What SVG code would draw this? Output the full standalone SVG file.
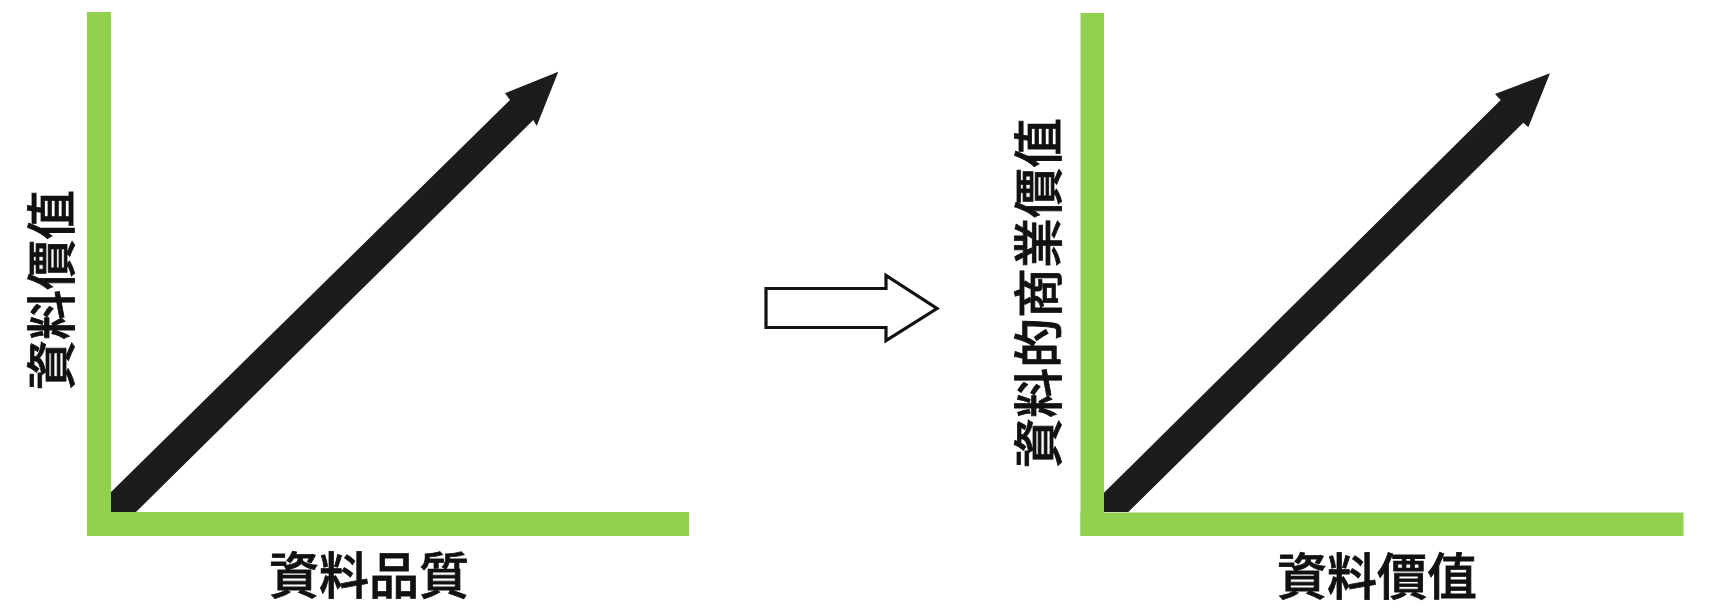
<svg xmlns="http://www.w3.org/2000/svg" width="1711" height="608" viewBox="0 0 1711 608">
  <style>
    .axis { fill: #92D050; }
    .trend { fill: #1C1C1C; }
    .label { font-family: "Noto Sans CJK TC", "Noto Sans CJK SC", sans-serif; font-size: 50px; font-weight: 500; fill: #111111; text-anchor: middle; dominant-baseline: central; stroke: #111111; stroke-width: 0.8; }
    .hollow { fill: #FFFFFF; stroke: #111111; stroke-width: 3.2; stroke-linejoin: miter; }
  </style>
  <rect width="1711" height="608" fill="#FFFFFF"/>

  <g id="connectors">
    <polygon id="trend-left" class="trend" points="111,492 510,100 505,93.3 558.3,71.7 536.7,126 533.3,120 136,512 111,512"/>
    <polygon id="trend-right" class="trend" points="1104,492.7 1500.7,100 1495,94 1550,73.3 1528.3,127.3 1523.3,122.7 1128.3,512 1104,512"/>
    <polygon id="transition-arrow" class="hollow" points="766,288.5 886,288.5 886,275.5 937,308.5 886,340.5 886,327.5 766,327.5"/>
  </g>

  <g id="left-chart">
    <rect class="axis" x="87" y="12" width="24" height="524"/>
    <rect class="axis" x="87" y="512" width="602" height="24"/>
    <text class="label" x="369" y="572">資料品質</text>
    <text class="label" transform="translate(48 290) rotate(-90)">資料價值</text>
  </g>

  <g id="right-chart">
    <rect class="axis" x="1080.5" y="13" width="23.5" height="523"/>
    <rect class="axis" x="1080.5" y="512.5" width="603" height="23.5"/>
    <text class="label" x="1377" y="573">資料價值</text>
    <text class="label" transform="translate(1035 293) rotate(-90)">資料的商業價值</text>
  </g>
</svg>
